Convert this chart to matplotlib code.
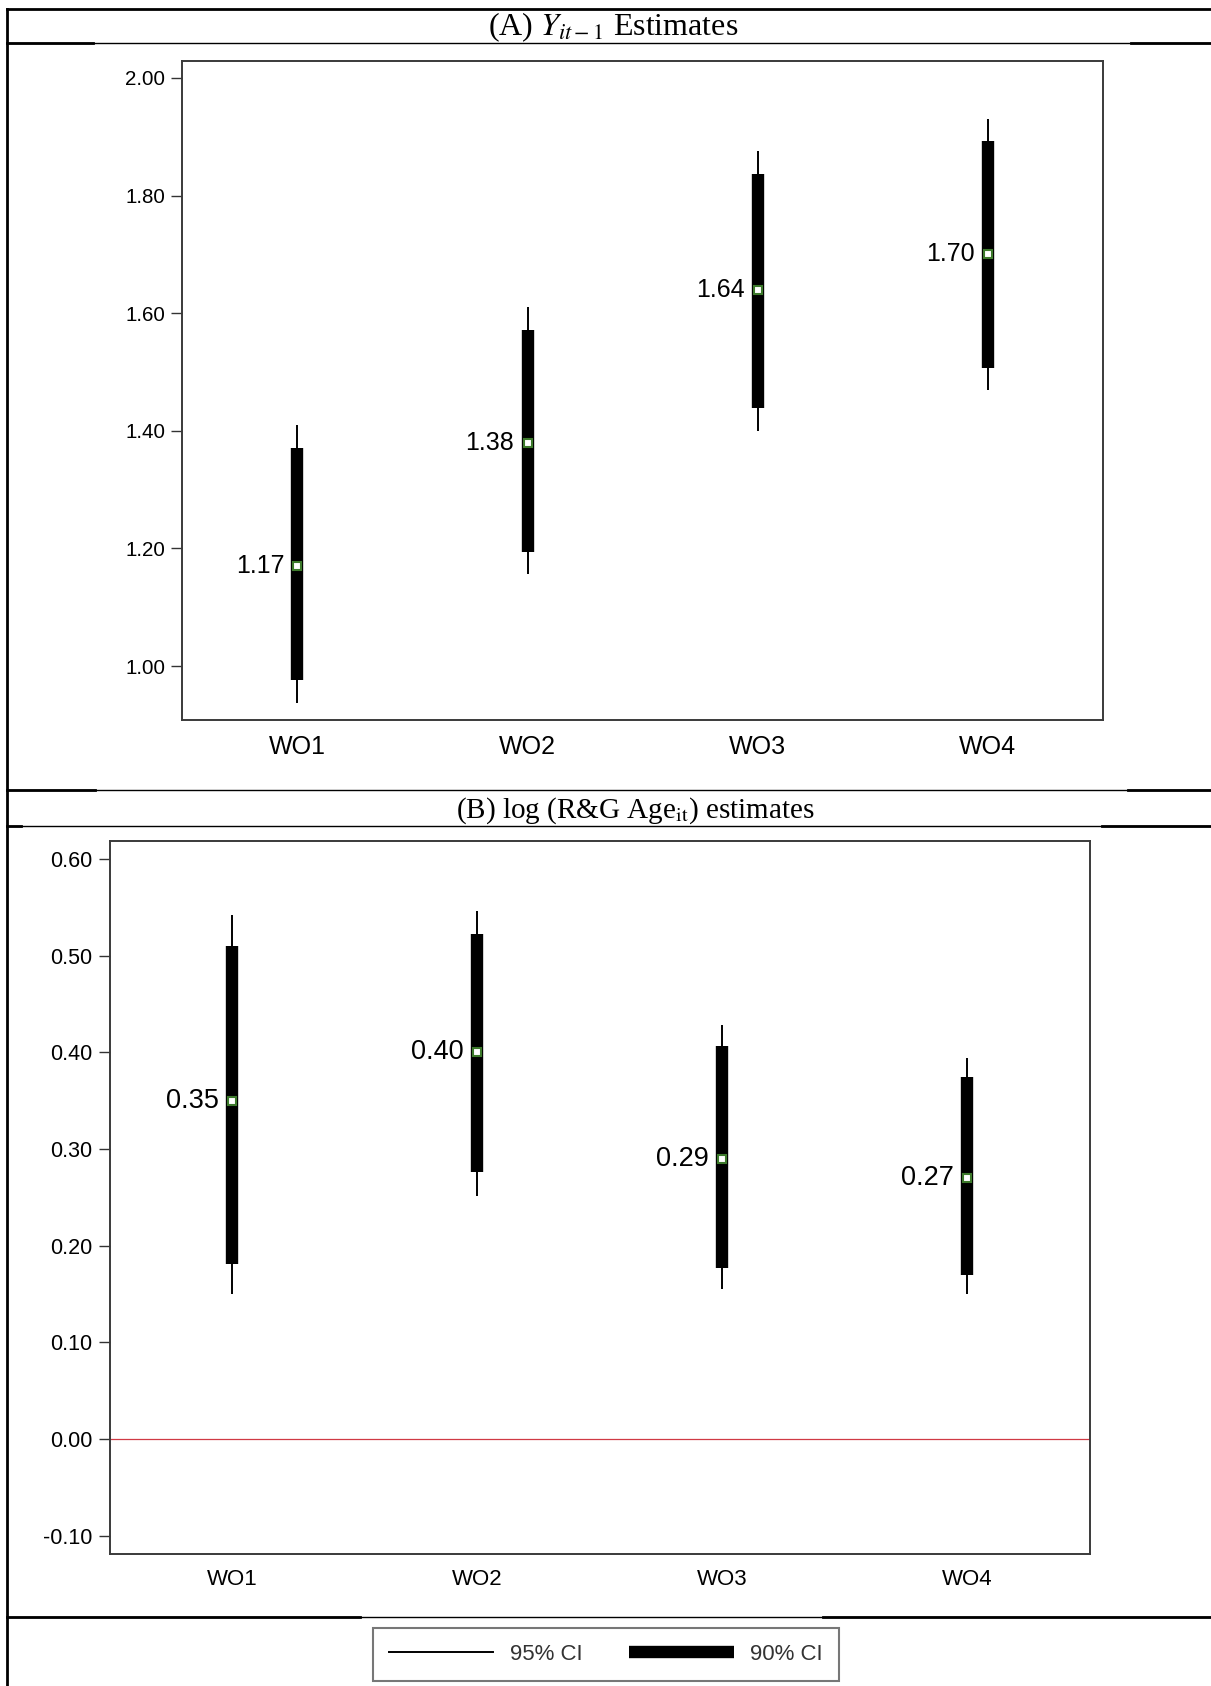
import matplotlib
matplotlib.use("Agg")
import matplotlib.pyplot as plt
from matplotlib.lines import Line2D

# ------------------------------------------------------------
# Estimates with 90% / 95% confidence intervals
# ------------------------------------------------------------
groups = ["WO1", "WO2", "WO3", "WO4"]

# (A) lagged dependent variable
a_est = [1.17, 1.38, 1.64, 1.70]
a_lo95 = [0.937, 1.156, 1.400, 1.470]
a_hi95 = [1.409, 1.610, 1.876, 1.930]
a_lo90 = [0.977, 1.194, 1.439, 1.506]
a_hi90 = [1.371, 1.572, 1.837, 1.892]
a_ticks = [1.00, 1.20, 1.40, 1.60, 1.80, 2.00]

# (B) log(R&G age)
b_est = [0.35, 0.40, 0.29, 0.27]
b_lo95 = [0.150, 0.251, 0.155, 0.150]
b_hi95 = [0.542, 0.546, 0.428, 0.394]
b_lo90 = [0.181, 0.276, 0.177, 0.170]
b_hi90 = [0.510, 0.522, 0.406, 0.374]
b_ticks = [-0.10, 0.00, 0.10, 0.20, 0.30, 0.40, 0.50, 0.60]

W, H = 1211, 1686

plt.rcParams.update({
    "font.family": ["Liberation Sans", "DejaVu Sans"],
    "axes.unicode_minus": False,
    "mathtext.fontset": "stix",
})

fig = plt.figure(figsize=(W / 100, H / 100), dpi=100)


def px_box(left, top, right, bottom):
    return [left / W, 1 - bottom / H, (right - left) / W, (bottom - top) / H]


def hline(y, x0, x1, lw):
    fig.add_artist(Line2D([x0 / W, x1 / W], [1 - y / H, 1 - y / H],
                          color="black", lw=lw, transform=fig.transFigure))


def ci_panel(ax, est, lo95, hi95, lo90, hi90, ticks, ylim,
             ytick_fs, xtick_fs, val_fs):
    x = list(range(1, len(groups) + 1))
    ax.vlines(x, lo95, hi95, color="black", lw=1.4, capstyle="butt", zorder=2)
    ax.vlines(x, lo90, hi90, color="black", lw=8.9, capstyle="butt", zorder=3)
    ax.plot(x, est, ls="none", marker="s", ms=5.6, mfc="white",
            mec="#3d7a2c", mew=1.5, zorder=4)
    for xi, v in zip(x, est):
        ax.annotate(f"{v:.2f}", (xi, v), xytext=(-9.5, 0),
                    textcoords="offset points", ha="right", va="center",
                    fontsize=val_fs, color="black")
    ax.set_xlim(0.5, 4.5)
    ax.set_ylim(*ylim)
    ax.set_xticks(x)
    ax.set_xticklabels(groups)
    ax.set_yticks(ticks)
    ax.set_yticklabels([f"{t:.2f}" for t in ticks])
    ax.tick_params(axis="x", length=0, pad=11, labelsize=xtick_fs)
    ax.tick_params(axis="y", length=7.7, width=1.0, pad=4.5,
                   labelsize=ytick_fs, color="#333333")
    for s in ax.spines.values():
        s.set_color("#3a3a3a")
        s.set_linewidth(1.4)


# panel A
axA = fig.add_axes(px_box(182.3, 60.8, 1103, 719.6))
ci_panel(axA, a_est, a_lo95, a_hi95, a_lo90, a_hi90, a_ticks,
         (0.909, 2.029), 14.8, 18, 18)

# panel B
axB = fig.add_axes(px_box(109.5, 841.4, 1090, 1553.7))
ci_panel(axB, b_est, b_lo95, b_hi95, b_lo90, b_hi90, b_ticks,
         (-0.1185, 0.618), 15.5, 16, 19.5)
axB.axhline(0, color="#d03a45", lw=0.9, zorder=1)

# table rules around the panels
fig.add_artist(Line2D([7 / W, 7 / W], [0, 1 - 8.6 / H], color="black",
                      lw=2.0, transform=fig.transFigure))
hline(8.6, 7, W, 2.0)
hline(43, 7, W, 1.0)
hline(43, 7, 93, 2.0)
hline(43, 1131, W, 2.0)
hline(790, 7, W, 1.0)
hline(790, 7, 95, 2.0)
hline(790, 1128, W, 2.0)
hline(826, 7, W, 1.0)
hline(826, 7, 21, 2.0)
hline(826, 1102, W, 2.0)
hline(1617, 7, W, 1.0)
hline(1617, 7, 360, 2.0)
hline(1617, 823, W, 2.0)

# row headings
fig.text(613 / W, 1 - 27 / H, r"(A) $Y_{it-1}$ Estimates",
         ha="center", va="center", fontsize=23, family="Liberation Serif")
fig.text(635 / W, 1 - 811 / H, r"(B) log (R&G Age$_{\mathrm{it}}$) estimates",
         ha="center", va="center", fontsize=21, family="Liberation Serif")

# legend
handles = [Line2D([], [], color="black", lw=1.4),
           Line2D([], [], color="black", lw=8.9, solid_capstyle="butt")]
leg = fig.legend(handles, ["95% CI", "90% CI"], ncol=2, loc="center",
                 bbox_to_anchor=(606 / W, 1 - 1654.5 / H), fontsize=16,
                 handlelength=4.7, handletextpad=0.75, columnspacing=2.1,
                 borderpad=0.7, fancybox=False, frameon=True)
leg.get_frame().set_edgecolor("#555555")
leg.get_frame().set_linewidth(1.5)
for t in leg.get_texts():
    t.set_color("#333333")

fig.savefig("out.png", dpi=100)
